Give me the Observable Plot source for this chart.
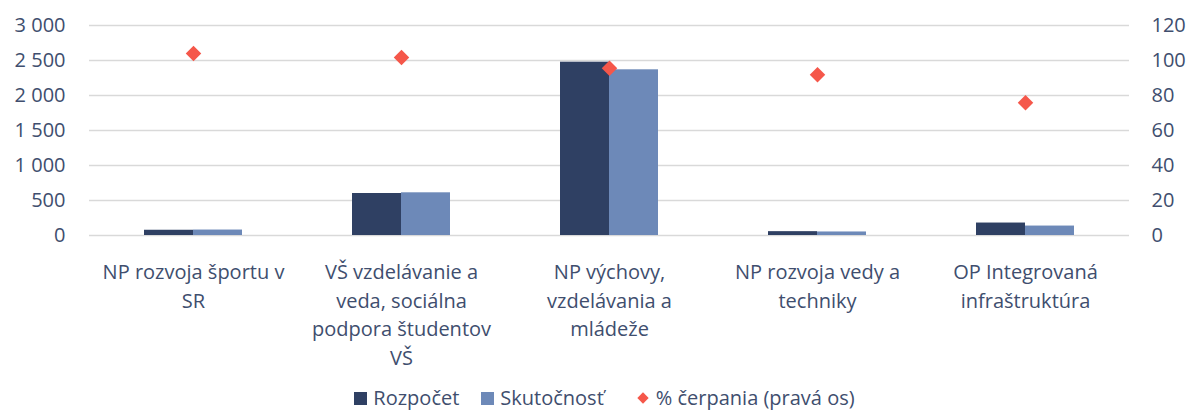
<!DOCTYPE html>
<html>
<head>
<meta charset="utf-8">
<script src="https://cdn.jsdelivr.net/npm/d3@7"></script>
<script src="https://cdn.jsdelivr.net/npm/@observablehq/plot@0.6"></script>
<style>
  html, body { margin: 0; padding: 0; background: #fff; }
  #chart { width: 1189px; }
  .legend { display: flex; justify-content: center; align-items: center; font-family: "Open Sans", sans-serif; font-size: 20px; color: #404e6e; height: 24px; line-height: 24px; padding-top: 6px; padding-left: 20px; }
  .legend .item { display: flex; align-items: center; margin: 0 11px; }
  .legend .item.pct { margin-left: 22px; }
  .legend .sw { width: 13px; height: 13px; margin-right: 6px; display: inline-block; }
  .legend .dia { width: 8px; height: 8px; transform: rotate(45deg); margin-right: 9px; margin-left: 2px; display: inline-block; }
</style>
</head>
<body>
<div id="chart"></div>
<script>
const categories = [
  "NP rozvoja športu v SR",
  "VŠ vzdelávanie a veda, sociálna podpora študentov VŠ",
  "NP výchovy, vzdelávania a mládeže",
  "NP rozvoja vedy a techniky",
  "OP Integrovaná infraštruktúra"
];
const categoryLabels = [
  "NP rozvoja športu v\nSR",
  "VŠ vzdelávanie a\nveda, sociálna\npodpora študentov\nVŠ",
  "NP výchovy,\nvzdelávania a\nmládeže",
  "NP rozvoja vedy a\ntechniky",
  "OP Integrovaná\ninfraštruktúra"
];
const seriesNames = ["Rozpočet", "Skutočnosť", "% čerpania (pravá os)"];
const rozpocet = [75, 600, 2476, 55, 178];
const skutocnost = [78, 610, 2367, 50.5, 135];
const cerpanie = [104, 101.7, 95.6, 91.8, 75.8];
const leftTicks = [0, 500, 1000, 1500, 2000, 2500, 3000];
const rightTicks = [0, 20, 40, 60, 80, 100, 120];

const colors = ["#2f4063", "#6d89b8", "#f5574a"];
const textColor = "#404e6e";
const ratio = 3000 / 120;

const locale = d3.formatLocale({decimal: ",", thousands: "\u00a0", grouping: [3], currency: ["", ""]});
const fmt = locale.format(",d");

const bars = [];
categories.forEach((c, i) => {
  bars.push({cat: c, series: seriesNames[0], value: rozpocet[i]});
  bars.push({cat: c, series: seriesNames[1], value: skutocnost[i]});
});
const points = categories.map((c, i) => ({cat: c, pct: cerpanie[i]}));
const labelOf = new Map(categories.map((c, i) => [c, categoryLabels[i]]));

const chart = Plot.plot({
  width: 1189,
  height: 380,
  marginLeft: 87,
  marginRight: 58,
  marginTop: 25,
  marginBottom: 145,
  style: {fontFamily: "Open Sans, sans-serif", fontSize: "20px", color: textColor, background: "#fff"},
  fx: {domain: categories, padding: 0, label: null},
  x: {domain: seriesNames.slice(0, 2), paddingInner: 0, paddingOuter: 1.09, axis: null},
  y: {domain: [0, 3000], axis: null},
  color: {domain: seriesNames, range: colors},
  marks: [
    Plot.ruleY(leftTicks, {stroke: "#d9d9d9", strokeWidth: 1.5}),
    Plot.barY(bars, {fx: "cat", x: "series", y: "value", fill: "series"}),
    Plot.dot(points, {fx: "cat", y: d => d.pct * ratio, symbol: "diamond2", r: 7, fill: colors[2], stroke: null}),
    Plot.axisY({ticks: leftTicks, tickSize: 0, tickPadding: 24, tickFormat: fmt, label: null, fontSize: 20}),
    Plot.axisY({anchor: "right", ticks: rightTicks.map(v => v * ratio), tickSize: 0, tickPadding: 22, tickFormat: v => fmt(Math.round(v / ratio)), label: null, fontSize: 20}),
    Plot.axisFx({anchor: "bottom", tickSize: 0, tickPadding: 23, lineHeight: 1.435, tickFormat: c => labelOf.get(c), label: null, fontSize: 20})
  ]
});
document.getElementById("chart").appendChild(chart);

const legend = document.createElement("div");
legend.className = "legend";
seriesNames.forEach((s, i) => {
  const item = document.createElement("span");
  item.className = i === 2 ? "item pct" : "item";
  const sw = document.createElement("span");
  sw.className = i === 2 ? "dia" : "sw";
  sw.style.background = colors[i];
  item.appendChild(sw);
  item.appendChild(document.createTextNode(s));
  legend.appendChild(item);
});
document.body.appendChild(legend);
</script>
</body>
</html>
